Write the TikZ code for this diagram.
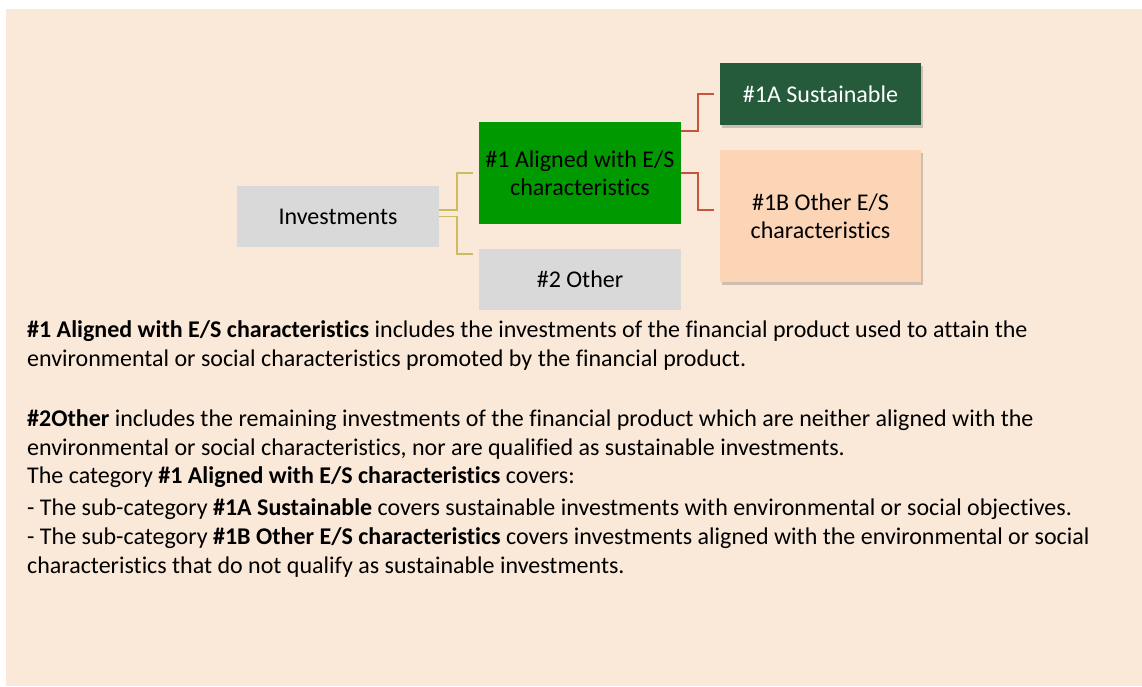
\documentclass[tikz,border=0pt]{standalone}
\usepackage{fontspec}
\setmainfont{Carlito}[Ligatures=NoCommon]
\usetikzlibrary{positioning,shadows}
\definecolor{bgpeach}{HTML}{FAE8D8}
\definecolor{boxgray}{HTML}{D9D9D9}
\definecolor{boxgreen}{HTML}{009900}
\definecolor{darkgreen}{HTML}{255A3B}
\definecolor{boxpeach}{HTML}{FBD5B5}
\definecolor{linekhaki}{HTML}{CDBB62}
\definecolor{linered}{HTML}{C8553A}

\begin{document}
\begin{tikzpicture}[x=1pt,y=-1pt,font=\fontsize{24}{28}\selectfont,
	box/.style={minimum width=202pt,inner sep=0pt,align=center},
	shade box/.style={box,drop shadow={shadow xshift=2pt,shadow yshift=-3pt,fill=black,opacity=.18}}]
	\fill[white] (0,0) rectangle (1142,686);
	\fill[bgpeach] (6,9) rectangle (1142,686);

	\node[box,fill=boxgray,minimum height=61pt] (Inv) at (338,216.5) {Investments};
	\node[box,fill=boxgreen,minimum height=102pt] (N1) at (580,173) {\#1 Aligned with E/S\\characteristics};
	\node[box,fill=boxgray,minimum height=61pt] (N2) at (580,279.5) {\#2 Other};
	\node[shade box,fill=darkgreen,text=white,minimum width=201pt,minimum height=62pt] (N1A) at (820.5,94) {\#1A Sustainable};
	\node[shade box,fill=boxpeach,minimum width=201pt,minimum height=132pt] (N1B) at (820.5,216) {\#1B Other E/S\\characteristics};

	\draw[linekhaki,line width=1.5pt] ([yshift=6.5pt]Inv.east) -- ++(18,0) |- ([xshift=-6pt]N1.west);
	\draw[linekhaki,line width=1.5pt] (Inv.east) -- ++(18,0) |- ([xshift=-6pt,yshift=-5pt]N2.north west);
	\draw[linered,line width=1.5pt] ([yshift=-9pt]N1.north east) -- ++(17,0) |- ([xshift=-6pt]N1A.west);
	\draw[linered,line width=1.5pt] (N1.east) -- ++(17,0) |- ([xshift=-6pt,yshift=6pt]N1B.west);

	\foreach \y/\t [count=\n] in
		{337/{\textbf{\#1 Aligned with E/S characteristics} includes the investments of the financial product used to attain the},
		 366/{environmental or social characteristics promoted by the financial product.},
		 426/{\textbf{\#2Other} includes the remaining investments of the financial product which are neither aligned with the},
		 455/{environmental or social characteristics, nor are qualified as sustainable investments.},
		 483/{The category \textbf{\#1 Aligned with E/S characteristics} covers:},
		 515/{- The sub-category \textbf{\#1A Sustainable} covers sustainable investments with environmental or social objectives.},
		 544/{- The sub-category \textbf{\#1B Other E/S characteristics} covers investments aligned with the environmental or social},
		 573/{characteristics that do not qualify as sustainable investments.}}
		\node[anchor=base west,inner sep=0pt] (T\n) at (27,\y) {\t};
\end{tikzpicture}
\end{document}
